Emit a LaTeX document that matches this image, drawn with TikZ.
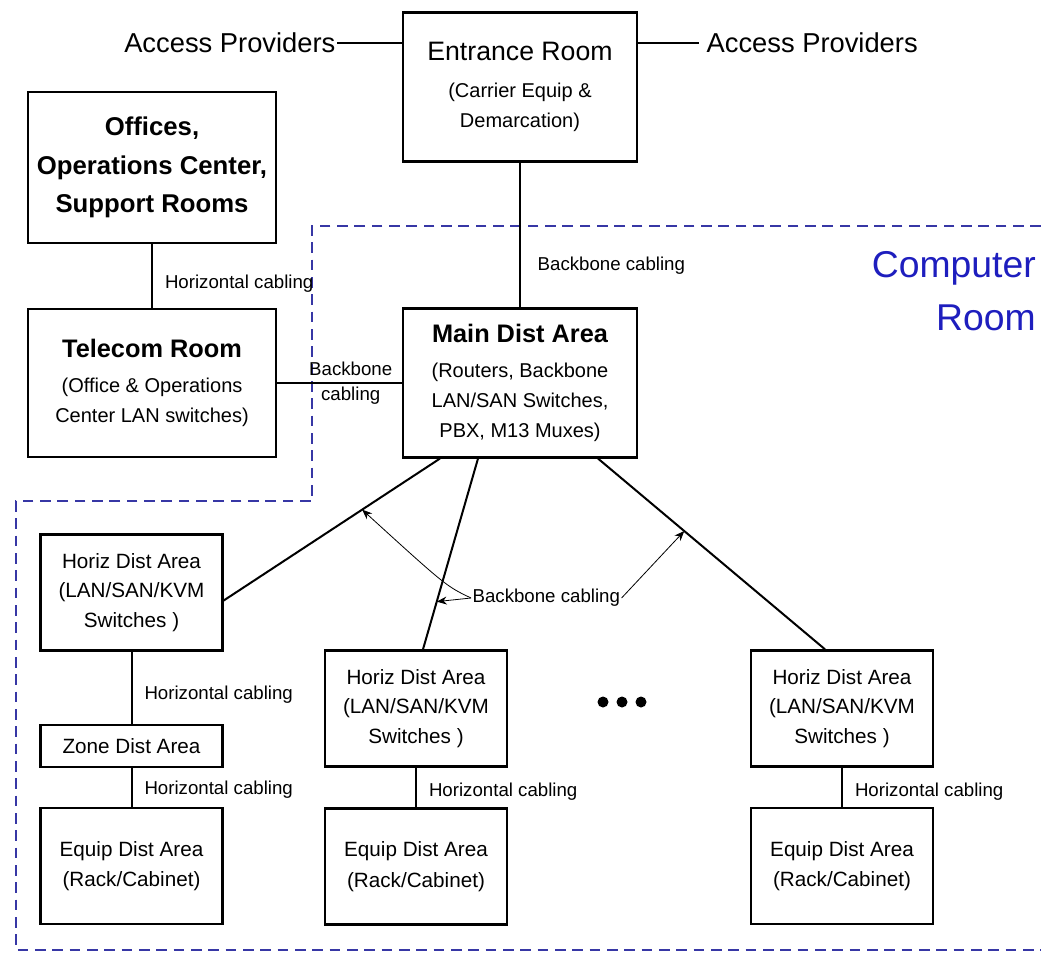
\documentclass[tikz,border=0pt]{standalone}
\usepackage{fontspec}
\setmainfont{Liberation Sans}
\usepackage{xcolor}
\usepackage{tikz}
\usetikzlibrary{positioning,arrows.meta,calc}
\definecolor{roomblue}{RGB}{30,30,190}
\definecolor{dashblue}{RGB}{55,55,165}
\newcommand{\BoxTitle}{\bfseries\fontsize{19}{23}\selectfont}
\newcommand{\BigLabel}{\fontsize{20.5}{25}\selectfont}

\begin{document}
\begin{tikzpicture}[
  x=0.75pt, y=-0.75pt,
  box/.style={draw, line width=1.8pt, align=center, inner sep=0pt,
    font=\fontsize{15}{22.5}\selectfont},
  room/.style={box, minimum width=175.5pt, minimum height=111.5pt},
  area/.style={box, minimum width=136.5pt, minimum height=87pt,
    font=\fontsize{15.5}{22}\selectfont},
  cab/.style={line width=1.5pt},
  arr/.style={-{Stealth[length=7.5pt,width=6pt]}, line width=0.6pt},
  lbl/.style={font=\fontsize{14}{19}\selectfont, align=center, inner sep=1pt},
  zone/.style={draw=dashblue, line width=2pt, dash pattern=on 8pt off 5pt}
]
\useasboundingbox (0,0) rectangle (1041,957);

% computer room boundary
\draw[zone] (1041,226) -- (312,226) -- (312,501) -- (16,501) -- (16,950) -- (1041,950);
\node[font=\fontsize{28}{40}\selectfont, text=roomblue, align=right,
  anchor=north east, inner sep=0pt] (crm) at (1036,251) {Computer\\Room};

% rooms outside
\node[room] (er) at (520,87) {\fontsize{20}{24}\selectfont Entrance Room\\[5pt]
  (Carrier Equip \&\\ Demarcation)};
\node[box, minimum width=186pt, minimum height=113pt,
  font=\bfseries\fontsize{19.3}{29}\selectfont] (off) at (152,167.5)
  {Offices,\\ Operations Center,\\ Support Rooms};
\node[box, minimum width=186pt, minimum height=111pt] (tel) at (152,383)
  {\BoxTitle Telecom Room\\[4pt] (Office \& Operations\\ Center LAN switches)};
\node[lbl, font=\BigLabel, anchor=east] (apl) at (337,43) {Access Providers};
\node[lbl, font=\BigLabel, anchor=west] (apr) at (705,43) {Access Providers};

% computer room
\node[room] (mda) at (520,383) {\BoxTitle Main Dist Area\\[4pt]
  (Routers, Backbone\\ LAN/SAN Switches,\\ PBX, M13 Muxes)};
\node[area] (hdaL) at (131.5,592.5) {Horiz Dist Area\\ (LAN/SAN/KVM\\ Switches )};
\node[area, minimum height=31.5pt] (zda) at (131.5,746) {Zone Dist Area};
\node[area] (edaL) at (131.5,866) {Equip Dist Area\\[1pt] (Rack/Cabinet)};
\node[area] (hdaM) at (416,708.5) {Horiz Dist Area\\ (LAN/SAN/KVM\\ Switches )};
\node[area] (edaM) at (416,866.5) {Equip Dist Area\\[1pt] (Rack/Cabinet)};
\node[area] (hdaR) at (842,708.5) {Horiz Dist Area\\ (LAN/SAN/KVM\\ Switches )};
\node[area] (edaR) at (842,866) {Equip Dist Area\\[1pt] (Rack/Cabinet)};
\fill (603,702) circle[radius=5.5] (622,702) circle[radius=5.5] (641,702) circle[radius=5.5];

% cabling
\draw[cab] (apl.east) -- (apl.east -| er.west);
\draw[cab] (apr.west -| er.east) -- ($(apr.west)+(-6,0)$);
\draw[cab] (er.south) -- (mda.north)
  node[lbl, pos=0.71, right=11.5pt] (bbv) {Backbone cabling};
\draw[cab] (off.south) -- (tel.north)
  node[lbl, pos=0.62, right=8pt] (hcO) {Horizontal cabling};
\draw[cab] (tel.east) -- (mda.west)
  node[lbl, pos=0.59] (bbt) {Backbone\\ cabling};
\draw[cab] ($(mda.south)+(-80,0)$) -- ($(hdaL.east)+(0,8)$) coordinate[pos=0.36] (tipL);
\draw[cab] ($(mda.south)+(-42,0)$) -- ($(hdaM.north)+(7,0)$) coordinate[pos=0.75] (tipM);
\draw[cab] ($(mda.south)+(78,0)$) -- ($(hdaR.north)+(-17,0)$) coordinate[pos=0.38] (tipR);
\draw[cab] (hdaL.south) -- (zda.north)
  node[lbl, pos=0.6, right=8pt] (hcZ) {Horizontal cabling};
\draw[cab] (zda.south) -- (edaL.north)
  node[lbl, pos=0.56, right=8pt] (hcE) {Horizontal cabling};
\draw[cab] (hdaM.south) -- (edaM.north)
  node[lbl, pos=0.6, right=8pt] (hcM) {Horizontal cabling};
\draw[cab] (hdaR.south) -- (edaR.north)
  node[lbl, pos=0.6, right=8pt] (hcR) {Horizontal cabling};

% backbone callout
\node[lbl, anchor=west] (bbh) at (471,598) {Backbone cabling};
\draw[arr] (bbh.west) -- (tipM);
\draw[arr] (bbh.west) .. controls +(-25,-12) .. (tipL);
\draw[arr] (bbh.east) -- (tipR);
\end{tikzpicture}
\end{document}
